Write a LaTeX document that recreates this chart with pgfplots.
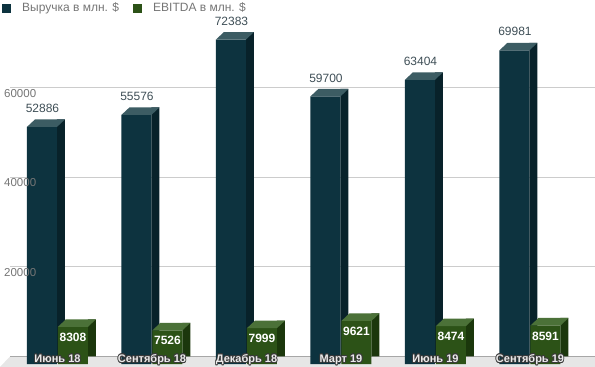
\documentclass[border=0pt]{standalone}
\usepackage{pgfplots}
\pgfplotsset{compat=1.18}
\usepackage{pgfplotstable}
\usepackage{fontspec}
\setmainfont{Liberation Sans}

\definecolor{revF}{HTML}{0D333F}
\definecolor{revS}{HTML}{08222A}
\definecolor{revT}{HTML}{3C5C63}
\definecolor{ebF}{HTML}{2C5217}
\definecolor{ebS}{HTML}{1B370C}
\definecolor{ebT}{HTML}{4B7138}
\definecolor{floorc}{HTML}{E6E6E6}
\definecolor{gridc}{HTML}{CCCCCC}
\definecolor{tickc}{HTML}{757575}
\definecolor{valc}{HTML}{3E4E56}
\definecolor{outc}{HTML}{3A3A3A}

\pgfplotstableread[col sep=comma]{
x,rev,eb,lab
0,52886,8308,Июнь 18
1,55576,7526,Сентябрь 18
2,72383,7999,Декабрь 18
3,59700,9621,Март 19
4,63404,8474,Июнь 19
5,69981,8591,Сентябрь 19
}\datatable

\pgfplotstableread[col sep=comma]{
x,y
-0.5026,20000
-0.5026,40000
-0.5026,60000
}\ticktable

\pgfdeclareplotmark{toprev}{%
  \pgfpathmoveto{\pgfpoint{-30.5pt}{-7.5pt}}%
  \pgfpathlineto{\pgfpoint{-22.5pt}{0pt}}%
  \pgfpathlineto{\pgfpoint{7.5pt}{0pt}}%
  \pgfpathlineto{\pgfpoint{-0.5pt}{-7.5pt}}%
  \pgfpathclose\pgfusepathqfill}
\pgfdeclareplotmark{topeb}{%
  \pgfpathmoveto{\pgfpoint{0.5pt}{-7.5pt}}%
  \pgfpathlineto{\pgfpoint{8.5pt}{0pt}}%
  \pgfpathlineto{\pgfpoint{38.5pt}{0pt}}%
  \pgfpathlineto{\pgfpoint{30.5pt}{-7.5pt}}%
  \pgfpathclose\pgfusepathqfill}

\newcommand\outl[1]{%
  \leavevmode
  \rlap{\textcolor{outc}{\kern-0.8pt#1}}%
  \rlap{\textcolor{outc}{\kern0.8pt#1}}%
  \rlap{\textcolor{outc}{\raisebox{0.8pt}{#1}}}%
  \rlap{\textcolor{outc}{\raisebox{-0.8pt}{#1}}}%
  \rlap{\textcolor{outc}{\kern-0.57pt\raisebox{0.57pt}{#1}}}%
  \rlap{\textcolor{outc}{\kern0.57pt\raisebox{0.57pt}{#1}}}%
  \rlap{\textcolor{outc}{\kern-0.57pt\raisebox{-0.57pt}{#1}}}%
  \rlap{\textcolor{outc}{\kern0.57pt\raisebox{-0.57pt}{#1}}}%
  \textcolor{white!92!black}{#1}}

\begin{document}
\begin{tikzpicture}
\useasboundingbox (-10pt,0pt) rectangle (585pt,367pt);
\begin{axis}[
  at={(0pt,0pt)}, anchor=south west,
  scale only axis, width=585pt, height=367pt,
  xmin=-0.5026, xmax=5.688, ymin=-2342, ymax=79523,
  clip=false,
  axis line style={draw=none},
  major tick length=0pt,
  xtick=\empty,
  ytick={20000,40000,60000},
  yticklabels={},
  ymajorgrids, grid style={gridc, line width=0.8pt},
  extra y ticks={0}, extra y tick labels={},
  extra y tick style={grid style={black!80, line width=0.9pt}},
  legend image code/.code={\fill[#1] (0pt,-4.5pt) rectangle (9pt,4.5pt); \path[draw=none,fill=none] (0pt,0pt) -- (19pt,0pt);},
  legend style={at={(-0.0137,0.995)}, anchor=north west, draw=none, fill=none,
    inner sep=0pt, font=\fontsize{12}{14}\selectfont, text=tickc,
    legend columns=-1, /tikz/every even column/.append style={column sep=13pt},
    nodes={inner sep=1pt}},
  legend cell align=left,
]
\addlegendimage{fill=revF, draw=none}
\addlegendentry{Выручка в млн. \$}
\addlegendimage{fill=ebF, draw=none}
\addlegendentry{EBITDA в млн. \$}

% floor
\addplot[forget plot, fill=floorc, draw=none] coordinates {(-0.6085,-2342) (-0.5026,0) (5.688,0) (5.688,-2342)};

% revenue 3D bars
\addplot[forget plot, ybar, bar width=8pt, bar shift=3.5pt, fill=revS, draw=none] table[x=x,y=rev]{\datatable};
\addplot[forget plot, ybar, bar width=30pt, bar shift=-15.5pt, fill=revF, draw=none, yshift=-7.5pt] table[x=x,y=rev]{\datatable};
\addplot[forget plot, only marks, mark=toprev, mark options={fill=revT, draw=none}] table[x=x,y=rev]{\datatable};

% EBITDA 3D bars
\addplot[forget plot, ybar, bar width=8pt, bar shift=34.5pt, fill=ebS, draw=none] table[x=x,y=eb]{\datatable};
\addplot[forget plot, ybar, bar width=30pt, bar shift=15.5pt, fill=ebF, draw=none, yshift=-7.5pt] table[x=x,y=eb]{\datatable};
\addplot[forget plot, only marks, mark=topeb, mark options={fill=ebT, draw=none}] table[x=x,y=eb]{\datatable};

% y tick labels (drawn on top of bars, as in the reference)
\addplot[forget plot, draw=none, mark=none, point meta=explicit symbolic,
  nodes near coords,
  every node near coord/.append style={anchor=north west, inner sep=0pt, xshift=-6pt, yshift=-1.5pt,
    font=\fontsize{11.5}{13}\selectfont, text=tickc}]
  table[x=x,y=y,meta=y]{\ticktable};

% revenue value labels
\addplot[forget plot, draw=none, mark=none, point meta=explicit symbolic,
  nodes near coords,
  every node near coord/.append style={anchor=south, inner sep=0pt, xshift=-15pt, yshift=6.5pt,
    font=\fontsize{12}{14}\selectfont, text=valc}]
  table[x=x,y=rev,meta=rev]{\datatable};
% EBITDA value labels
\addplot[forget plot, draw=none, mark=none, point meta=explicit symbolic,
  nodes near coords,
  every node near coord/.append style={anchor=north, inner sep=0pt, xshift=15.5pt, yshift=-13.5pt,
    font=\bfseries\fontsize{12}{14}\selectfont, text=white}]
  table[x=x,y=eb,meta=eb]{\datatable};
% category labels
\addplot[forget plot, draw=none, mark=none, point meta=explicit symbolic,
  nodes near coords={\outl{\pgfplotspointmeta}},
  every node near coord/.append style={anchor=base, inner sep=0pt, yshift=-6pt,
    font=\bfseries\fontsize{11}{13}\selectfont}]
  table[x=x,y expr=0,meta=lab]{\datatable};
\end{axis}
\end{tikzpicture}
\end{document}
